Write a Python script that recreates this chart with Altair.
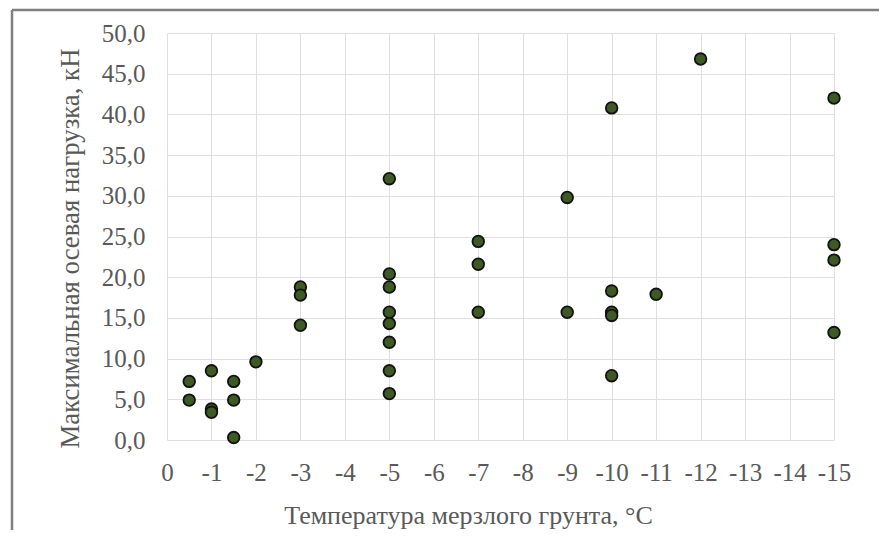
import altair as alt
import pandas as pd

# Data
temp = [-0.5, -0.5,
        -1, -1, -1,
        -1.5, -1.5, -1.5,
        -2,
        -3, -3, -3,
        -5, -5, -5, -5, -5, -5, -5, -5,
        -7, -7, -7,
        -9, -9,
        -10, -10, -10, -10, -10,
        -11,
        -12,
        -15, -15, -15, -15]
load = [7.2, 4.9,
        8.5, 3.8, 3.4,
        7.2, 4.9, 0.3,
        9.6,
        18.8, 17.8, 14.1,
        32.1, 20.4, 18.8, 15.7, 14.3, 12.0, 8.5, 5.7,
        24.4, 21.6, 15.7,
        29.8, 15.7,
        40.8, 18.3, 15.7, 15.3, 7.9,
        17.9,
        46.8,
        42.0, 24.0, 22.1, 13.2]

x_ticks = list(range(-15, 1))
y_ticks = [0, 5, 10, 15, 20, 25, 30, 35, 40, 45, 50]

df = pd.DataFrame({"t": temp, "f": load})

FONT = "'Times New Roman', 'Liberation Serif', serif"
TXT = "#595959"
GRID = "#e2dede"

points = alt.Chart(df).mark_point(
    filled=True, shape="circle", size=135, fill="#3d5a24",
    stroke="#111111", strokeWidth=1.8, opacity=1
).encode(
    x=alt.X("t:Q",
            scale=alt.Scale(domain=[-15, 0], reverse=True, nice=False),
            axis=alt.Axis(values=x_ticks, labelExpr="toString(datum.value)",
                          title="Температура мерзлого грунта, °C",
                          titleX=301, titleY=83, titleBaseline="alphabetic",
                          titleFontSize=26, titleFontWeight="normal",
                          labelFontSize=25, labelPadding=20, tickSize=0,
                          ticks=False, domain=False,
                          gridColor=GRID, labelFlush=False)),
    y=alt.Y("f:Q",
            scale=alt.Scale(domain=[0, 50], nice=False),
            axis=alt.Axis(values=y_ticks,
                          labelExpr="replace(format(datum.value, '.1f'), '.', ',')",
                          title="Максимальная осевая нагрузка, кН",
                          titleFontSize=26.8, titleFontWeight="normal",
                          titleX=-83, titleY=215, titleAngle=270,
                          labelFontSize=25, labelPadding=22, tickSize=0,
                          ticks=False, domain=False,
                          gridColor=GRID, labelFlush=False))
)

frame_data = alt.Data(values=[{"a": 1}])
top_rule = alt.Chart(frame_data).mark_rule(color="#7f7f7f", strokeWidth=2.5).encode(
    x=alt.value(-155), x2=alt.value(760), y=alt.value(-23)
)
left_rule = alt.Chart(frame_data).mark_rule(color="#7f7f7f", strokeWidth=2.5).encode(
    x=alt.value(-155), y=alt.value(-23), y2=alt.value(520)
)

chart = alt.layer(points, top_rule, left_rule).properties(
    width=667, height=407,
    autosize=alt.AutoSizeParams(type="none"),
    padding={"left": 159, "top": 25, "right": 45, "bottom": 90},
    background="white",
).configure_view(stroke=None).configure_axis(
    labelFont=FONT, titleFont=FONT, labelColor=TXT, titleColor=TXT
)

chart.save("out.html", embed_options={"renderer": "svg", "actions": False})
